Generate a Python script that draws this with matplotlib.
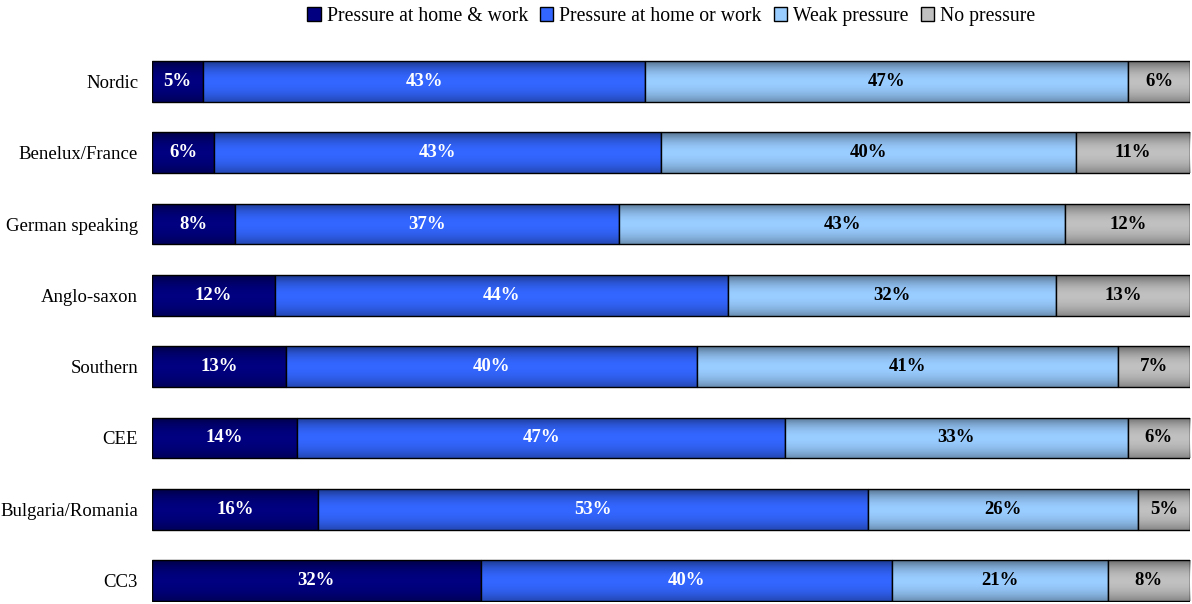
import matplotlib
matplotlib.use("Agg")
import matplotlib.pyplot as plt
import numpy as np

regiones = ["Nordic", "Benelux/France", "German speaking", "Anglo-saxon",
            "Southern", "CEE", "Bulgaria/Romania", "CC3"]
casa_y_trabajo = [5, 6, 8, 12, 13, 14, 16, 32]
casa_o_trabajo = [43, 43, 37, 44, 40, 47, 53, 40]
presion_debil = [47, 40, 43, 32, 41, 33, 26, 21]
sin_presion = [6, 11, 12, 13, 7, 6, 5, 8]

series = ["Pressure at home & work", "Pressure at home or work",
          "Weak pressure", "No pressure"]
colores = ["#000080", "#3366ff", "#99ccff", "#c0c0c0"]
color_texto = ["white", "white", "black", "black"]

plt.rcParams["font.family"] = ["Liberation Serif", "DejaVu Serif"]

datos = np.array([casa_y_trabajo, casa_o_trabajo, presion_debil, sin_presion], dtype=float)
# 100% apilado: las filas suman 100-101 por redondeo
partes = datos / datos.sum(axis=0) * 100

fig = plt.figure(figsize=(11.92, 6.04), dpi=100)
ax = fig.add_axes([152 / 1192, 2 / 604, 1038 / 1192, 542 / 604])

# sombra vertical (mas oscuro arriba y abajo) para imitar el degradado
t = np.linspace(-1, 1, 60)
alfa = np.where(t < 0, 0.45 * t ** 2, 0.3 * t ** 2)
sombra = np.zeros((60, 1, 4))
sombra[:, 0, 3] = alfa

y = np.arange(len(regiones))
izq = np.zeros(len(regiones))
for i in range(4):
    barras = ax.barh(y, partes[i], left=izq, height=0.57, color=colores[i],
                     edgecolor="black", linewidth=1, label=series[i])
    for j, b in enumerate(barras):
        x0, y0 = b.get_x(), b.get_y()
        im = ax.imshow(sombra, extent=(x0, x0 + b.get_width(), y0 + b.get_height(), y0),
                       aspect="auto", zorder=b.get_zorder() + 0.1, interpolation="bilinear")
        im.set_clip_path(b)
        ax.text(izq[j] + partes[i][j] / 2, y[j], f"{int(datos[i][j])}%",
                ha="center", va="center", fontsize=13.5, fontweight="bold",
                color=color_texto[i], zorder=5)
    izq += partes[i]

ax.set_xlim(0, 100)
ax.set_ylim(7.3, -0.3)
ax.set_yticks(y)
ax.set_yticklabels(regiones, fontsize=13.5)
ax.tick_params(axis="y", length=0, pad=10)
ax.set_xticks([])
for lado in ax.spines.values():
    lado.set_visible(False)

fig.legend(loc="upper center", bbox_to_anchor=(0.563, 1.018), ncol=4, frameon=False,
           fontsize=14.2, handlelength=0.7, handleheight=0.7, handletextpad=0.3,
           columnspacing=0.6)

plt.savefig("out.png", dpi=100)
